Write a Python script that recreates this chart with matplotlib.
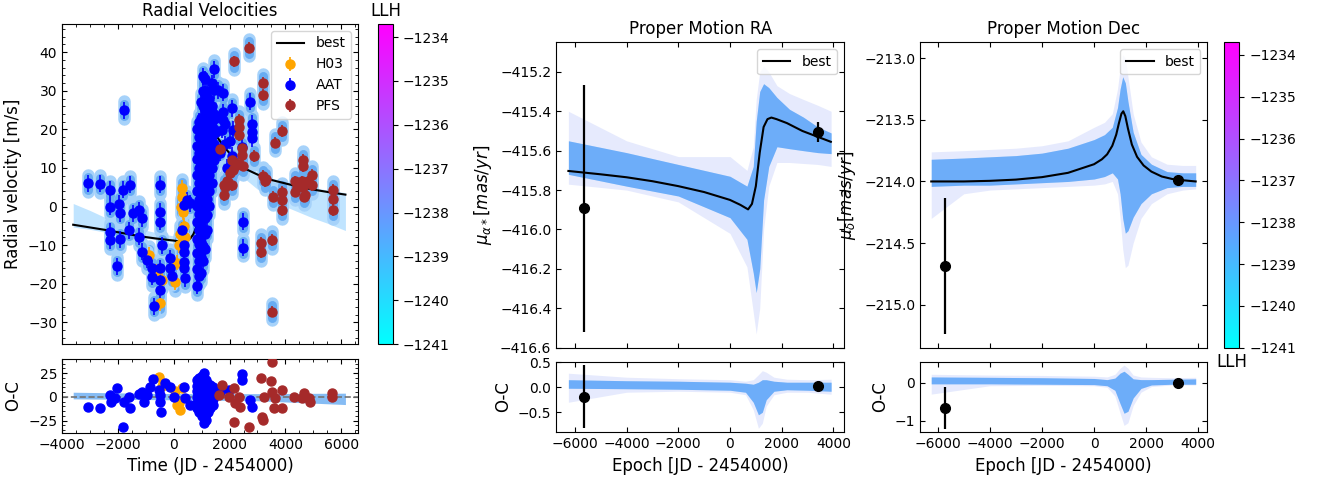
import numpy as np
import matplotlib
matplotlib.use('Agg')
import matplotlib.pyplot as plt
from matplotlib import cm, colors
from matplotlib.ticker import MultipleLocator, AutoMinorLocator

# ---------------- radial velocity data ----------------
h03_t = [-870, -640, -480, -420, 60, 120, 180, 230, 260, 290, 300, 320, 370, 400]
h03_rv = [-12.5, -16.8, -25.0, -19.0, -19.5, -14.5, -10.0, -7.0, 0.0, 4.8, 2.5, -1.5, -5.0, -8.0]
h03_err = 2.0

aat_t = [-3068, -2627, -2269, -2269, -2269, -2269, -2030, -1947, -1911, -1911,
         -1815, -1768, -1611, -1553, -1457, -1253, -1253, -1135, -1135, -956,
         -777, -777, -716, -479, -479, -479, -479, -479, -479, -419,
         -122, -122, -60, 297, 358, 358, 358, 358, 358, 415, 476, 595,
         # dense sampling around periastron
         850, 850, 850, 850, 850, 850, 850, 850, 850, 850, 850,
         920, 920, 920, 920, 920, 920, 920, 920, 920, 920, 920,
         990, 990, 990, 990, 990, 990, 990, 990, 990, 990, 990, 990,
         1060, 1060, 1060, 1060, 1060, 1060, 1060, 1060, 1060, 1060, 1060, 1060, 1060,
         1130, 1130, 1130, 1130, 1130, 1130, 1130, 1130, 1130, 1130, 1130, 1130,
         1200, 1200, 1200, 1200, 1200, 1200, 1200, 1200, 1200, 1200,
         1280, 1280, 1280, 1280, 1280, 1280, 1280, 1280,
         1360, 1360, 1360, 1360, 1360, 1360, 1360,
         1440, 1440, 1440, 1440, 1440, 1440,
         1520, 1520, 1520,
         # after periastron
         1597, 1650, 1718, 1777, 1777, 1777, 1837, 1837, 1900, 2000, 2076, 2087,
         2135, 2434, 2469, 2469, 2733, 2793, 2793, 2793]
aat_rv = [6.0, 5.9, 4.3, 0.0, -6.5, -8.7, -15.4, 0.8, -1.7, -8.5,
          4.3, 25.0, -6.1, 5.6, -1.7, -0.9, -7.8, -3.0, -11.7, -13.8,
          -16.0, -18.2, -25.8, 5.6, -1.3, -3.9, -16.0, -19.0, -21.6, -10.0,
          -13.4, -15.8, -18.0, -6.1, 0.4, -10.0, -11.7, -14.3, -16.0, -18.6, 1.7, 0.9,
          -20.5, -16.2, -12.0, -8.3, -4.1, 0.2, 4.0, 8.1, 12.2, 15.8, 20.0,
          -18.0, -14.2, -9.8, -6.1, -2.0, 1.8, 6.2, 10.0, 13.9, 18.1, 22.0,
          -17.2, -13.0, -9.1, -4.8, -1.0, 3.1, 7.0, 11.2, 15.0, 19.1, 23.0, 27.1,
          -14.0, -10.2, -6.0, -1.9, 2.2, 6.0, 10.1, 14.0, 18.2, 22.1, 26.0, 29.9, 33.7,
          -11.0, -7.1, -3.0, 1.1, 5.0, 8.9, 13.1, 17.0, 21.2, 25.0, 29.1, 33.0,
          -6.0, -2.1, 2.0, 6.1, 10.0, 14.2, 18.0, 22.1, 26.0, 30.0,
          0.1, 4.0, 8.2, 12.0, 16.1, 20.0, 24.2, 28.0,
          6.0, 10.1, 14.0, 18.2, 22.0, 26.1, 32.0,
          12.0, 16.1, 20.0, 24.0, 30.1, 35.6,
          15.0, 19.2, 23.0,
          30.1, 14.0, 19.9, 29.5, 24.4, 22.4, 21.4, 16.2, 10.0, 17.0, 13.2, 25.5,
          19.9, 15.5, -3.9, -10.6, 27.1, 21.5, 19.4, 17.7]
aat_err = 2.2

pfs_t = [1658, 1801, 1801, 1837, 1897, 2016, 2076, 2100, 2135, 2159, 2200, 2300,
         2350, 2350, 2350, 2434, 2434, 2469, 2708, 2875, 3126, 3126, 3209, 3209,
         3209, 3269, 3293, 3509, 3509, 3567, 3627, 3877, 3889, 3889, 3889,
         4342, 4342, 4415, 4580, 4641, 4641, 4641, 4665, 4701, 4800, 4939, 4939,
         5691, 5691, 5691]
pfs_rv = [14.8, 5.6, 3.0, 5.2, 6.5, 8.6, 5.6, 12.0, 9.5, 37.6, 10.5, 11.0,
          22.4, 20.5, 18.6, 15.1, 13.4, 10.6, 41.2, 13.1, -9.5, -11.7, 32.1, 28.9,
          8.0, 6.5, 7.2, -8.6, -27.2, 2.6, 16.6, 19.6, 3.9, 1.7, -0.9,
          6.5, 3.9, 5.2, 6.5, 12.1, 10.4, 5.2, 2.6, 3.0, 6.5, 8.2, 5.6,
          4.3, 1.9, -0.9]
pfs_err = 1.5

rv_best_x = [-3600, -3000, -2400, -1800, -1200, -600, 0, 250, 450, 600, 700, 800,
             900, 1000, 1100, 1200, 1350, 1500, 1800, 2100, 2500, 3000, 3500, 4000,
             4500, 5000, 5500, 6150]
rv_best_y = [-4.7, -5.4, -6.1, -6.9, -7.7, -8.3, -8.8, -9.1, -9.0, -8.2, -7.2, -5.5,
             -2.0, 4.0, 11.0, 17.0, 19.8, 18.6, 15.5, 13.0, 10.0, 8.3, 6.9, 6.0,
             5.1, 4.4, 3.8, 3.1]
rv_band_x = [-3600, -3000, -2400, -1800, -1200, -600, 0, 400, 700, 900, 1100, 1300,
             1500, 2000, 2500, 3000, 3500, 4000, 4500, 5000, 5500, 6150]
rv_band_hi = [0.8, -1.0, -3.0, -4.6, -5.8, -6.8, -7.6, -7.8, -5.0, 2.0, 14.0, 21.0,
              19.5, 15.0, 11.5, 8.8, 7.4, 6.5, 5.6, 4.9, 4.3, 3.6]
rv_band_lo = [-5.3, -5.9, -6.7, -7.3, -8.0, -8.6, -9.2, -9.6, -9.0, -6.0, 4.0, 14.0,
              15.0, 11.0, 7.5, 4.5, 2.0, 0.0, -1.5, -3.0, -4.3, -6.2]

# O-C of the radial velocities
h03_oc_t = [-537, -420, 60, 119, 179, 239, 300]
h03_oc = [21.0, 12.0, 6.0, -8.5, -6.7, -13.7, 9.0]
aat_oc_t = [-3068, -2627, -2269, -2233, -2030, -2090, -1815, -1790, -1612, -1553,
            -1253, -1134, -1075, -956, -837, -753, -537, -478, -478, -454,
            -299, -120, 0, 358, 418, 597,
            850, 850, 850, 850, 850, 850, 920, 920, 920, 920, 920, 920, 920,
            1000, 1000, 1000, 1000, 1000, 1000, 1000, 1000,
            1074, 1074, 1074, 1074, 1074, 1074, 1074, 1074, 1074,
            1150, 1150, 1150, 1150, 1150, 1150, 1150, 1150,
            1230, 1230, 1230, 1230, 1230, 1230, 1310, 1310, 1310, 1310, 1310,
            1390, 1390, 1390, 1390,
            1432, 1671, 1969, 2446, 2446, 2745, 2804]
aat_oc = [-10.9, -12.0, 2.1, -4.9, 9.9, -1.4, -32.0, -4.9, 0.4, -12.0,
          2.8, 5.6, -4.9, 2.1, 10.9, 18.7, 7.4, 2.1, -4.9, -15.5,
          14.4, 10.9, 0.4, 10.9, -1.4, -8.5,
          -12.0, -6.0, 0.2, 6.1, 12.0, 18.0, -16.1, -10.0, -4.0, 2.0, 8.1, 14.0, 20.0,
          -20.0, -14.1, -8.0, -2.0, 4.1, 10.0, 16.0, 22.0,
          -27.8, -21.0, -15.0, -9.1, -3.0, 3.0, 9.1, 15.0, 25.0,
          -24.0, -18.0, -12.1, -6.0, 0.1, 6.0, 12.0, 18.1,
          -16.0, -10.0, -4.0, 2.1, 8.0, 14.0, -12.0, -6.1, 0.0, 6.0, 12.1,
          -8.0, -2.0, 4.0, 10.1,
          2.1, 5.6, 7.4, 24.3, 18.0, -3.2, -10.2]
pfs_oc_t = [1611, 1730, 1969, 2148, 2148, 2207, 2327, 2386, 2708, 3125, 3161, 3197,
            3221, 3495, 3519, 3519, 3579, 3638, 3877, 3877, 4295, 4593, 4653, 4832,
            4891, 5667, 5667]
pfs_oc = [2.1, 12.7, 0.4, 9.2, -26.1, -6.7, 0.4, -10.2, -31.7, 19.7, -20.8, -24.3,
          0.4, 16.9, 36.6, 5.6, -11.3, -1.4, 7.4, -12.0, 0.4, -1.4, 3.9, -1.4,
          -4.9, 3.9, 0.4]
rv_oc_band_x = [-3600, 0, 3000, 6150]
rv_oc_band_hi = [5.0, 3.5, 3.5, 4.0]
rv_oc_band_lo = [-2.0, -3.0, -4.0, -8.0]

# ---------------- proper motion RA ----------------
ra_obs_t = [-5652, 3421]
ra_obs = [-415.893, -415.505]
ra_obs_err = [0.626, 0.053]
ra_best_x = [-6250, -5000, -4000, -3000, -2000, -1000, 0, 400, 700, 850, 1000,
             1150, 1300, 1450, 1600, 1800, 2200, 2800, 3400, 3900]
ra_best_y = [-415.703, -415.72, -415.735, -415.755, -415.78, -415.81, -415.85,
             -415.875, -415.898, -415.87, -415.78, -415.61, -415.48, -415.44,
             -415.432, -415.44, -415.46, -415.50, -415.53, -415.555]
ra_band_x = [-6250, -4000, -2000, 0, 656, 900, 1015, 1150, 1300, 1500, 1815, 2300,
             2840, 3400, 3911]
ra_outer_hi = [-415.40, -415.55, -415.63, -415.63, -415.70, -415.58, -415.34, -415.20,
               -415.17, -415.20, -415.27, -415.31, -415.34, -415.37, -415.40]
ra_inner_hi = [-415.55, -415.61, -415.67, -415.73, -415.78, -415.68, -415.45, -415.30,
               -415.26, -415.28, -415.33, -415.39, -415.43, -415.48, -415.51]
ra_inner_lo = [-415.72, -415.78, -415.83, -415.94, -416.05, -416.22, -416.32, -416.20,
               -415.85, -415.68, -415.58, -415.59, -415.60, -415.61, -415.615]
ra_outer_lo = [-415.77, -415.80, -415.86, -416.02, -416.19, -416.42, -416.53, -416.40,
               -416.00, -415.78, -415.66, -415.66, -415.665, -415.67, -415.68]
ra_oc = [-0.19, 0.03]
ra_oc_band_x = [-6250, -4000, -2000, 0, 600, 900, 1100, 1250, 1400, 1700, 2200, 3000, 3911]
ra_oc_outer_hi = [0.28, 0.20, 0.17, 0.15, 0.12, 0.15, 0.25, 0.33, 0.30, 0.20, 0.16, 0.15, 0.16]
ra_oc_inner_hi = [0.15, 0.13, 0.12, 0.10, 0.08, 0.06, 0.10, 0.15, 0.15, 0.12, 0.10, 0.10, 0.10]
ra_oc_inner_lo = [-0.02, -0.03, -0.04, -0.06, -0.10, -0.30, -0.55, -0.50, -0.25, -0.08, -0.05, -0.06, -0.08]
ra_oc_outer_lo = [-0.30, -0.10, -0.08, -0.10, -0.15, -0.45, -0.82, -0.72, -0.38, -0.15, -0.10, -0.10, -0.14]

# ---------------- proper motion Dec ----------------
de_obs_t = [-5720, 3230]
de_obs = [-214.685, -213.99]
de_obs_err = [0.55, 0.02]
de_best_x = [-6250, -5000, -4000, -3000, -2000, -1000, 0, 300, 500, 700, 850, 950,
             1050, 1120, 1200, 1300, 1450, 1650, 1900, 2200, 2600, 3000, 3400, 3900]
de_best_y = [-214.0, -214.0, -213.995, -213.985, -213.965, -213.93, -213.86, -213.82,
             -213.78, -213.71, -213.62, -213.53, -213.45, -213.43, -213.47, -213.57,
             -213.70, -213.80, -213.87, -213.92, -213.96, -213.98, -213.99, -214.0]
de_band_x = [-6250, -5000, -4000, -3000, -2000, -1000, 0, 400, 700, 900, 1000, 1100,
             1200, 1300, 1500, 1800, 2200, 2800, 3400, 3900]
de_outer_hi = [-213.76, -213.75, -213.74, -213.73, -213.71, -213.67, -213.56, -213.52,
               -213.45, -213.25, -213.08, -212.97, -213.00, -213.15, -213.45, -213.68,
               -213.80, -213.86, -213.87, -213.87]
de_inner_hi = [-213.82, -213.81, -213.80, -213.79, -213.77, -213.73, -213.66, -213.62,
               -213.56, -213.40, -213.25, -213.15, -213.20, -213.35, -213.60, -213.78,
               -213.86, -213.92, -213.93, -213.93]
de_inner_lo = [-214.04, -214.03, -214.03, -214.02, -214.01, -214.00, -213.98, -213.96,
               -213.93, -213.98, -214.10, -214.30, -214.42, -214.40, -214.29, -214.18,
               -214.10, -214.05, -214.04, -214.04]
de_outer_lo = [-214.30, -214.10, -214.07, -214.06, -214.05, -214.04, -214.03, -214.02,
               -214.00, -214.10, -214.30, -214.55, -214.70, -214.68, -214.50, -214.30,
               -214.18, -214.10, -214.07, -214.06]
de_oc = [-0.66, 0.0]
de_oc_err = [0.55, 0.02]
de_oc_band_x = [-6250, -4000, -2000, 0, 500, 800, 1000, 1150, 1300, 1500, 1800, 2200, 3000, 3900]
de_oc_outer_hi = [0.22, 0.20, 0.19, 0.17, 0.15, 0.22, 0.38, 0.46, 0.38, 0.20, 0.15, 0.14, 0.13, 0.14]
de_oc_inner_hi = [0.15, 0.14, 0.13, 0.11, 0.08, 0.12, 0.25, 0.30, 0.22, 0.10, 0.08, 0.08, 0.09, 0.10]
de_oc_inner_lo = [-0.03, -0.03, -0.04, -0.05, -0.08, -0.20, -0.55, -0.80, -0.75, -0.40, -0.15, -0.06, -0.04, -0.04]
de_oc_outer_lo = [-0.30, -0.08, -0.07, -0.08, -0.12, -0.35, -0.80, -1.12, -1.05, -0.60, -0.25, -0.10, -0.06, -0.06]

llh_ticks = [-1241, -1240, -1239, -1238, -1237, -1236, -1235, -1234]

# ---------------- figure ----------------
fig = plt.figure(figsize=(13.2, 4.79), dpi=100)
cmap = plt.get_cmap('cool')
norm = colors.Normalize(vmin=-1241, vmax=-1233.7)
halo_out = '#a6d2fa'
halo_in = '#68acf2'


def style(ax, minor=False):
    if minor:
        ax.xaxis.set_minor_locator(AutoMinorLocator(4))
        ax.yaxis.set_minor_locator(AutoMinorLocator(5))
    ax.tick_params(which='both', direction='in', top=True, right=True, labelsize=10)


def halo(ax, t, v):
    v = np.asarray(v, dtype=float)
    lc = ax.vlines(t, v - 2.3, v + 2.3, colors=halo_out, lw=9, zorder=2)
    lc.set_capstyle('round')
    lc = ax.vlines(t, v - 1.6, v + 1.6, colors=halo_in, lw=6.5, zorder=2)
    lc.set_capstyle('round')


def bands(ax, x, olo, ohi, ilo, ihi):
    # faint spread of the posterior orbits, then the dense core
    ax.fill_between(x, olo, ohi, color='#b8c4fb', alpha=0.35, lw=0, zorder=1)
    ax.fill_between(x, ilo, ihi, color='#3fa8f7', alpha=0.75, lw=0, zorder=1)
    ax.fill_between(x, ilo, ihi, color=cmap(0.5), alpha=0.18, lw=0, zorder=1)


# radial velocities
ax1 = fig.add_axes([0.0470, 0.2818, 0.2242, 0.6681])
ax1.fill_between(rv_band_x, rv_band_lo, rv_band_hi, color=cmap(0.3), alpha=0.35, lw=0, zorder=1)
halo(ax1, h03_t, h03_rv)
halo(ax1, aat_t, aat_rv)
halo(ax1, pfs_t, pfs_rv)
ax1.plot(rv_best_x, rv_best_y, color='k', lw=1.5, label='best', zorder=3)
ax1.errorbar(h03_t, h03_rv, yerr=h03_err, fmt='o', color='orange', ms=6.5, elinewidth=1.2, zorder=4, label='H03')
ax1.errorbar(aat_t, aat_rv, yerr=aat_err, fmt='o', color='blue', ms=6.5, elinewidth=1.2, zorder=4, label='AAT')
ax1.errorbar(pfs_t, pfs_rv, yerr=pfs_err, fmt='o', color='brown', ms=6.5, elinewidth=1.2, zorder=4, label='PFS')
ax1.set_xlim(-4000, 6600)
ax1.set_ylim(-35.6, 47.3)
ax1.xaxis.set_major_locator(MultipleLocator(2000))
ax1.yaxis.set_major_locator(MultipleLocator(10))
style(ax1, minor=True)
ax1.tick_params(labelbottom=False)
ax1.set_ylabel('Radial velocity [m/s]', fontsize=12)
ax1.set_title('Radial Velocities', fontsize=12)
ax1.legend(loc='upper right', fontsize=10)

ax1r = fig.add_axes([0.0470, 0.0960, 0.2242, 0.1545])
ax1r.fill_between(rv_oc_band_x, rv_oc_band_lo, rv_oc_band_hi, color=halo_in, alpha=0.8, lw=0, zorder=1)
ax1r.axhline(0, ls='--', color='0.45', lw=1.2, zorder=2)
ax1r.errorbar(h03_oc_t, h03_oc, yerr=h03_err, fmt='o', color='orange', ms=6.5, elinewidth=1.2, zorder=4)
ax1r.errorbar(aat_oc_t, aat_oc, yerr=aat_err, fmt='o', color='blue', ms=6.5, elinewidth=1.2, zorder=4)
ax1r.errorbar(pfs_oc_t, pfs_oc, yerr=pfs_err, fmt='o', color='brown', ms=6.5, elinewidth=1.2, zorder=4)
ax1r.set_xlim(-4000, 6600)
ax1r.set_ylim(-38, 40)
ax1r.xaxis.set_major_locator(MultipleLocator(2000))
ax1r.yaxis.set_major_locator(MultipleLocator(25))
style(ax1r, minor=True)
ax1r.set_ylabel('O-C', fontsize=12)
ax1r.set_xlabel('Time (JD - 2454000)', fontsize=12)

sm = cm.ScalarMappable(norm=norm, cmap=cmap)
cax1 = fig.add_axes([0.2861, 0.2818, 0.0118, 0.6681])
cb1 = fig.colorbar(sm, cax=cax1)
cb1.set_ticks(llh_ticks)
cax1.tick_params(labelsize=10)
cax1.set_title('LLH', fontsize=12)

# proper motion RA
ax2 = fig.add_axes([0.4214, 0.2741, 0.2180, 0.6376])
bands(ax2, ra_band_x, ra_outer_lo, ra_outer_hi, ra_inner_lo, ra_inner_hi)
ax2.plot(ra_best_x, ra_best_y, color='k', lw=1.5, label='best', zorder=3)
ax2.errorbar(ra_obs_t, ra_obs, yerr=ra_obs_err, fmt='o', color='k', ms=7, elinewidth=1.6, zorder=4)
ax2.set_xlim(-6720, 4410)
ax2.set_ylim(-416.6, -415.05)
ax2.xaxis.set_major_locator(MultipleLocator(2000))
ax2.yaxis.set_major_locator(MultipleLocator(0.2))
style(ax2)
ax2.tick_params(labelbottom=False)
ax2.set_ylabel(r'$\mu_{\alpha*} [mas/yr]$', fontsize=12)
ax2.set_title('Proper Motion RA', fontsize=12)
ax2.legend(loc='upper right', fontsize=10)

ax2r = fig.add_axes([0.4214, 0.0975, 0.2180, 0.1474])
bands(ax2r, ra_oc_band_x, ra_oc_outer_lo, ra_oc_outer_hi, ra_oc_inner_lo, ra_oc_inner_hi)
ax2r.errorbar(ra_obs_t, ra_oc, yerr=ra_obs_err, fmt='o', color='k', ms=7, elinewidth=1.6, zorder=4)
ax2r.set_xlim(-6720, 4410)
ax2r.set_ylim(-0.9, 0.51)
ax2r.xaxis.set_major_locator(MultipleLocator(2000))
ax2r.yaxis.set_major_locator(MultipleLocator(0.5))
style(ax2r)
ax2r.set_ylabel('O-C', fontsize=12)
ax2r.set_xlabel('Epoch [JD - 2454000)', fontsize=12)

# proper motion Dec
ax3 = fig.add_axes([0.6970, 0.2741, 0.2177, 0.6376])
bands(ax3, de_band_x, de_outer_lo, de_outer_hi, de_inner_lo, de_inner_hi)
ax3.plot(de_best_x, de_best_y, color='k', lw=1.5, label='best', zorder=3)
ax3.errorbar(de_obs_t, de_obs, yerr=de_obs_err, fmt='o', color='k', ms=7, elinewidth=1.6, zorder=4)
ax3.set_xlim(-6680, 4350)
ax3.set_ylim(-215.35, -212.87)
ax3.xaxis.set_major_locator(MultipleLocator(2000))
ax3.yaxis.set_major_locator(MultipleLocator(0.5))
style(ax3)
ax3.tick_params(labelbottom=False)
ax3.set_ylabel(r'$\mu_{\delta} [mas/yr]$', fontsize=12)
ax3.set_title('Proper Motion Dec', fontsize=12)
ax3.legend(loc='upper right', fontsize=10)

ax3r = fig.add_axes([0.6970, 0.0975, 0.2177, 0.1474])
bands(ax3r, de_oc_band_x, de_oc_outer_lo, de_oc_outer_hi, de_oc_inner_lo, de_oc_inner_hi)
ax3r.errorbar(de_obs_t, de_oc, yerr=de_oc_err, fmt='o', color='k', ms=7, elinewidth=1.6, zorder=4)
ax3r.set_xlim(-6680, 4350)
ax3r.set_ylim(-1.3, 0.55)
ax3r.xaxis.set_major_locator(MultipleLocator(2000))
ax3r.yaxis.set_major_locator(MultipleLocator(1))
style(ax3r)
ax3r.set_ylabel('O-C', fontsize=12)
ax3r.set_xlabel('Epoch [JD - 2454000)', fontsize=12)

cax2 = fig.add_axes([0.9275, 0.2741, 0.0114, 0.6376])
cb2 = fig.colorbar(sm, cax=cax2)
cb2.set_ticks(llh_ticks)
cax2.tick_params(labelsize=10)
cax2.set_xlabel('LLH', fontsize=12)

fig.savefig('out.png', dpi=100)
